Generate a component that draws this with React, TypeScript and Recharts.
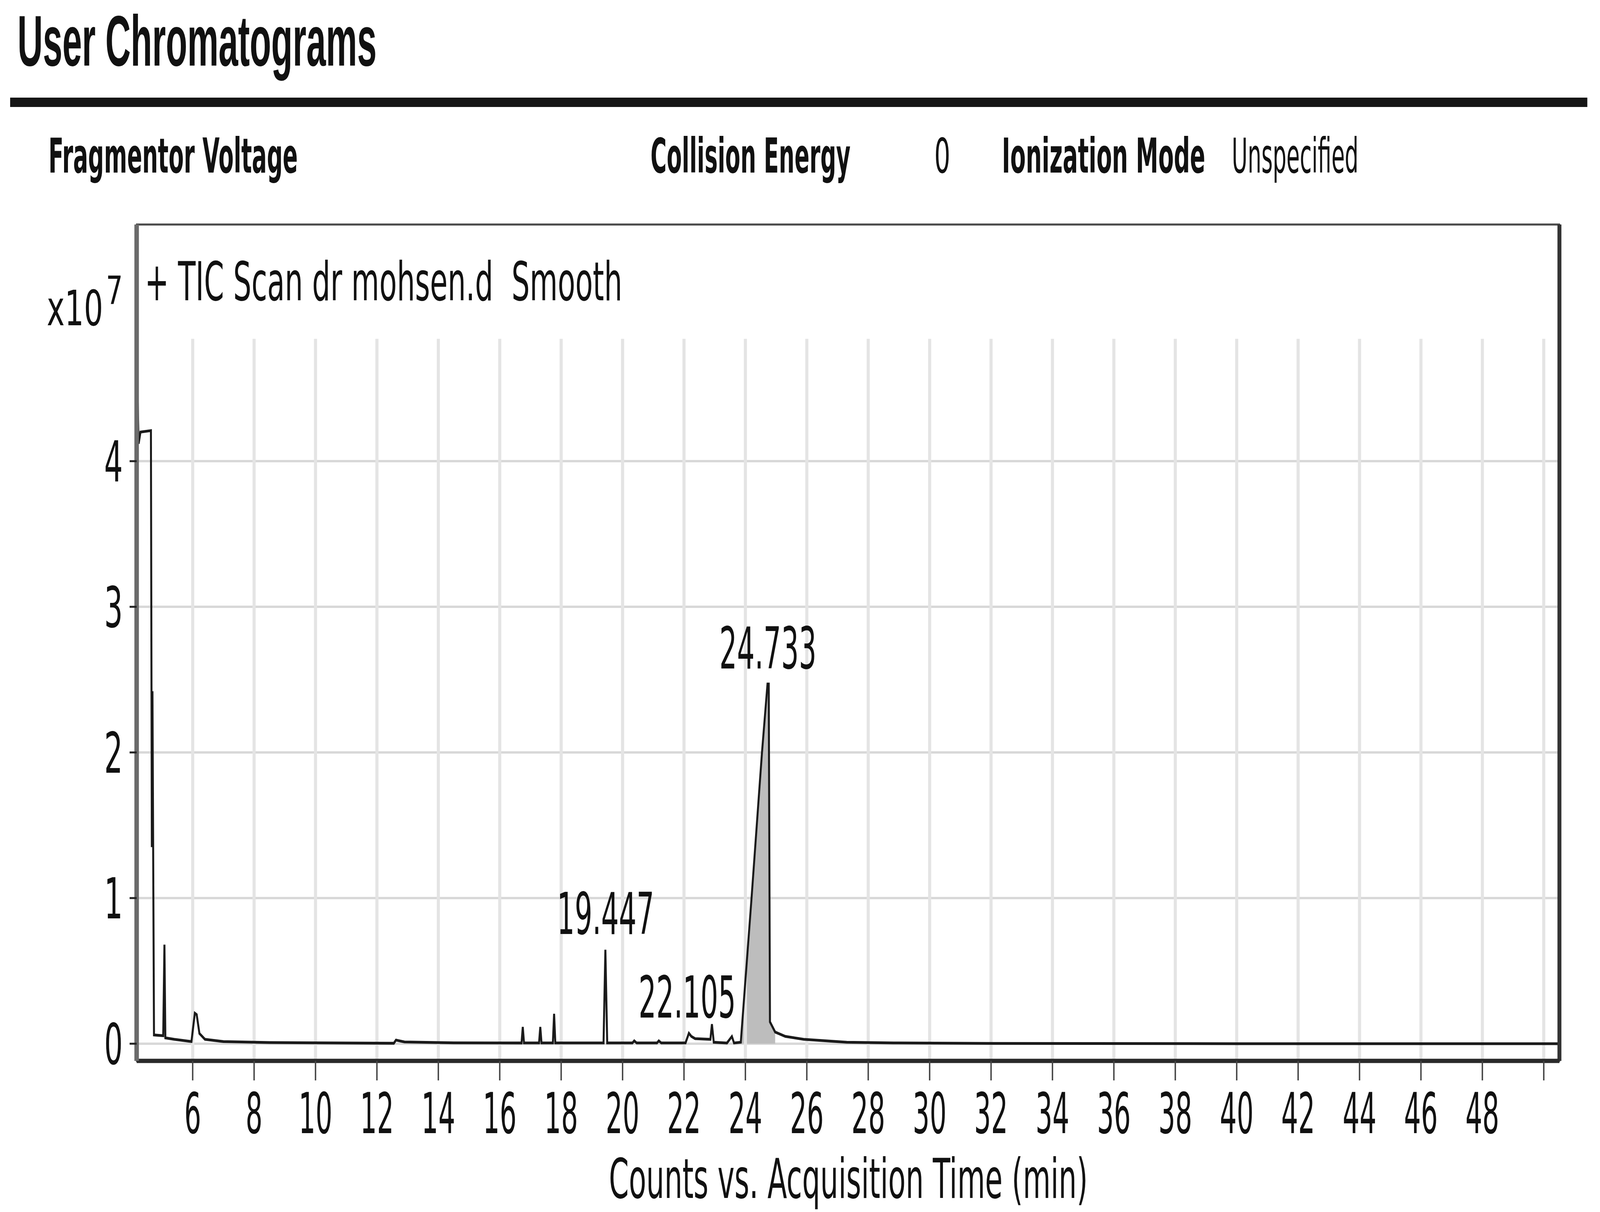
import React from 'react';
import {
  ComposedChart,
  Line,
  Area,
  XAxis,
  YAxis,
  CartesianGrid,
  ReferenceLine,
  ReferenceArea,
  ReferenceDot,
} from 'recharts';

// Acquisition time (min)
const times = [
  4.18, 4.21, 4.24, 4.3, 4.64, 4.67, 4.69, 4.74,
  5.04, 5.08, 5.11, 5.4, 5.96, 6.07, 6.13, 6.22, 6.4, 7.0, 8.5,
  12.55, 12.62, 12.9, 14.5,
  16.71, 16.75, 16.79, 17.28, 17.32, 17.36, 17.73, 17.77, 17.81,
  19.38, 19.44, 19.5, 20.32, 20.38, 20.46, 21.12, 21.18, 21.26,
  22.05, 22.16, 22.24, 22.36, 22.86, 22.91, 22.97, 23.4, 23.56, 23.63,
  23.85, 24.2, 24.54, 24.72, 24.76, 24.8, 24.97, 25.3, 25.9, 27.3, 29.0, 32.0, 40.0, 50.6,
];
// Counts (x10^7)
const counts = [
  4.42, 4.4, 4.12, 4.2, 4.21, 1.35, 2.42, 0.06,
  0.055, 0.68, 0.04, 0.03, 0.015, 0.21, 0.2, 0.07, 0.03, 0.015, 0.008,
  0.003, 0.025, 0.012, 0.006,
  0.005, 0.115, 0.005, 0.005, 0.115, 0.005, 0.005, 0.205, 0.005,
  0.005, 0.645, 0.005, 0.005, 0.02, 0.005, 0.005, 0.02, 0.005,
  0.005, 0.072, 0.05, 0.035, 0.03, 0.134, 0.01, 0.005, 0.05, 0.005,
  0.01, 1.0, 2.0, 2.47, 2.47, 0.15, 0.08, 0.05, 0.03, 0.01, 0.005, 0.002, 0.0, 0.0,
];
const shadeFrom = 23.85;
const shadeTo = 24.97;

const xTicks = [6, 8, 10, 12, 14, 16, 18, 20, 22, 24, 26, 28, 30, 32, 34, 36, 38, 40, 42, 44, 46, 48, 50];
const xLabelMax = 48;
const yTicks = [0, 1, 2, 3, 4];

const peakTimes = [19.447, 22.105, 24.733];
const peakCounts = [0.645, 0.072, 2.47];
const peakLabels = ['19.447', '22.105', '24.733'];

const xDomain: [number, number] = [4.175, 50.51];
const yDomain: [number, number] = [-0.118, 5.625];
const gridTop = 4.84;

const data = times.map((t, i) => ({
  t,
  v: counts[i],
  shade: t >= shadeFrom && t <= shadeTo ? counts[i] : null,
}));

const FONT = 'DejaVu Sans';

const measureCtx: CanvasRenderingContext2D | null =
  typeof document !== 'undefined' ? document.createElement('canvas').getContext('2d') : null;

function FitText(props: {
  x: number;
  y: number;
  text: string;
  size: number;
  width: number;
  weight?: string;
  family?: string;
  anchor?: 'start' | 'middle' | 'end';
}) {
  const { x, y, text, size, width, weight = 'normal', family = FONT, anchor = 'start' } = props;
  let k = 0.68;
  if (measureCtx) {
    measureCtx.font = `${weight} ${size}px "${family}"`;
    const w = measureCtx.measureText(text).width;
    if (w > 0) k = width / w;
  }
  return (
    <text
      transform={`translate(${x},${y}) scale(${k},1)`}
      x={0}
      y={0}
      textAnchor={anchor}
      fontFamily={family}
      fontWeight={weight}
      fontSize={size}
      fill="#111"
      style={{ whiteSpace: 'pre' }}
    >
      {text}
    </text>
  );
}

const XTick = (props: any) => {
  const { x, y, payload } = props;
  const v = payload.value;
  if (v > xLabelMax) return <g />;
  const s = String(v);
  return <FitText x={x} y={y + 105} text={s} size={145} width={60 * s.length} anchor="middle" />;
};

const YTick = (props: any) => {
  const { x, y, payload } = props;
  const s = String(payload.value);
  return <FitText x={x} y={y + 52} text={s} size={145} width={66 * s.length} anchor="end" />;
};

const W = 5679;
const H = 3104;

export default function App() {
  const vw = typeof window !== 'undefined' ? document.documentElement.clientWidth || window.innerWidth : W;
  const vh = typeof window !== 'undefined' ? window.innerHeight : H;
  const sx = vw / W;
  const sy = vh / H;
  return (
    <div style={{ position: 'absolute', left: 0, top: 0, width: vw, height: vh, overflow: 'hidden', background: '#fff' }}>
      <div
        style={{
          position: 'absolute',
          left: 0,
          top: 0,
          width: W,
          height: H,
          transform: `scale(${sx}, ${sy})`,
          transformOrigin: '0 0',
        }}
      >
        <div style={{ position: 'absolute', left: 0, top: 0 }}>
          <ComposedChart
            width={W}
            height={H}
            data={data}
            margin={{ top: 575, right: 144, bottom: 187, left: 385 }}
          >
            <CartesianGrid vertical={false} stroke="#d8d8d8" strokeWidth={6} />
            {xTicks.map((t) => (
              <ReferenceLine
                key={'g' + t}
                segment={[
                  { x: t, y: gridTop },
                  { x: t, y: yDomain[0] },
                ]}
                stroke="#e4e4e4"
                strokeWidth={11}
                ifOverflow="visible"
              />
            ))}
            <XAxis
              dataKey="t"
              type="number"
              domain={xDomain}
              allowDataOverflow
              ticks={xTicks}
              interval={0}
              height={200}
              tickSize={50}
              tickMargin={30}
              tick={<XTick />}
              axisLine={{ stroke: '#2a2a2a', strokeWidth: 11 }}
              tickLine={{ stroke: '#444', strokeWidth: 5 }}
            />
            <YAxis
              type="number"
              domain={yDomain}
              allowDataOverflow
              ticks={yTicks}
              interval={0}
              width={100}
              tickSize={25}
              tickMargin={24}
              tick={<YTick />}
              axisLine={{ stroke: '#6a6a6a', strokeWidth: 16 }}
              tickLine={{ stroke: '#222', strokeWidth: 5 }}
            />
            <Area
              dataKey="shade"
              type="linear"
              stroke="none"
              fill="#bdbdbd"
              fillOpacity={1}
              baseValue={0}
              connectNulls={false}
              isAnimationActive={false}
            />
            <Line
              dataKey="v"
              type="linear"
              stroke="#1a1a1a"
              strokeWidth={7}
              dot={false}
              activeDot={false}
              isAnimationActive={false}
            />
            <ReferenceArea
              x1={xDomain[0]}
              x2={xDomain[1]}
              y1={yDomain[0]}
              y2={yDomain[1]}
              fill="none"
              stroke="#4a4a4a"
              strokeWidth={5}
              ifOverflow="visible"
            />
            <ReferenceLine x={xDomain[1]} stroke="#333" strokeWidth={14} ifOverflow="visible" />
            {peakTimes.map((t, i) => (
              <ReferenceDot
                key={'p' + i}
                x={t}
                y={peakCounts[i]}
                r={1}
                ifOverflow="visible"
                shape={(p: any) => (
                  <FitText x={p.cx} y={p.cy - 40} text={peakLabels[i]} size={148} width={345} anchor="middle" />
                )}
              />
            ))}
          </ComposedChart>
        </div>
        <svg
          width={W}
          height={H}
          style={{ position: 'absolute', left: 0, top: 0, pointerEvents: 'none' }}
        >
          <FitText x={62} y={168} text="User Chromatograms" size={184} width={1275} weight="bold" family="Liberation Sans" />
          <rect x={36} y={250} width={5598} height={24} fill="#151515" />
          <FitText x={172} y={442} text="Fragmentor Voltage" size={123} width={885} weight="bold" />
          <FitText x={2309} y={442} text="Collision Energy" size={123} width={710} weight="bold" />
          <FitText x={3316} y={442} text="0" size={123} width={57} />
          <FitText x={3556} y={442} text="Ionization Mode" size={123} width={722} weight="bold" />
          <FitText x={4372} y={442} text="Unspecified" size={123} width={450} />
          <FitText x={514} y={769} text={'+ TIC Scan dr mohsen.d  Smooth'} size={138} width={1695} />
          <FitText x={166} y={833} text="x10" size={125} width={200} />
          <FitText x={376} y={779} text="7" size={100} width={60} />
          <FitText x={3011} y={3068} text="Counts vs. Acquisition Time (min)" size={140} width={1700} anchor="middle" />
        </svg>
      </div>
    </div>
  );
}
